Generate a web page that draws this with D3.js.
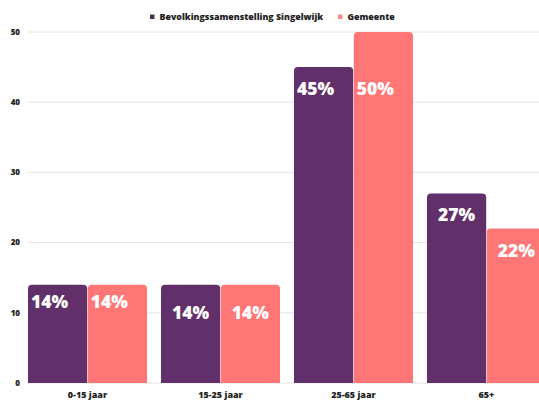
<!DOCTYPE html>
<html>
<head>
<meta charset="utf-8">
<script src="https://cdn.jsdelivr.net/npm/d3@7"></script>
<style>
  html, body { margin: 0; padding: 0; background: #fff; overflow: hidden; }
  svg { display: block; font-family: "Open Sans", "Noto Sans", sans-serif; }
</style>
</head>
<body>
<svg id="chart"></svg>
<script>
// data
const categories = ["0-15 jaar", "15-25 jaar", "25-65 jaar", "65+"];
const seriesNames = ["Bevolkingssamenstelling Singelwijk", "Gemeente"];
const singelwijk = [14, 14, 45, 27];
const gemeente = [14, 14, 50, 22];
const yTicks = [0, 10, 20, 30, 40, 50];

// label placement per group (the original is hand placed, not uniform)
const labelDrop = [[17, 17], [28, 28], [22, 57], [21, 22]];
const labelAnchor = ["start", "middle", "start", "middle"];

const W = 539, H = 400;
const colors = ["#61306a", "#fe7676"];

const svg = d3.select("#chart").attr("width", W).attr("height", H);

const x = d3.scaleBand()
  .domain(categories)
  .range([28, 546])
  .paddingInner(0.105)
  .paddingOuter(0);

const xInner = d3.scaleBand()
  .domain(seriesNames)
  .range([0, x.bandwidth()])
  .paddingInner(0.01);

const y = d3.scaleLinear().domain([0, 50]).range([383, 32]);

// gridlines
svg.append("g")
  .selectAll("line")
  .data(yTicks)
  .join("line")
  .attr("x1", 28)
  .attr("x2", W)
  .attr("y1", d => y(d))
  .attr("y2", d => y(d))
  .attr("stroke", "#e4e4e4")
  .attr("stroke-width", 1);

// y tick labels
svg.append("g")
  .selectAll("text")
  .data(yTicks)
  .join("text")
  .attr("x", 20)
  .attr("y", d => y(d))
  .attr("dy", "0.35em")
  .attr("text-anchor", "end")
  .attr("font-size", "8px")
  .attr("font-weight", 800)
  .attr("fill", "#222")
  .text(d => d);

// rounded top bar path
function topRounded(x0, y0, w, h, r) {
  r = Math.min(r, h, w / 2);
  return `M${x0},${y0 + h}V${y0 + r}Q${x0},${y0} ${x0 + r},${y0}` +
    `H${x0 + w - r}Q${x0 + w},${y0} ${x0 + w},${y0 + r}V${y0 + h}Z`;
}

const rows = categories.map((c, i) => ({
  cat: c, i,
  vals: [singelwijk[i], gemeente[i]]
}));

const groups = svg.append("g")
  .selectAll("g")
  .data(rows)
  .join("g")
  .attr("transform", d => `translate(${x(d.cat)},0)`);

groups.selectAll("path")
  .data(d => d.vals.map((v, s) => ({ v, s, i: d.i })))
  .join("path")
  .attr("d", d => topRounded(xInner(seriesNames[d.s]), y(d.v), xInner.bandwidth(), y(0) - y(d.v), 4))
  .attr("fill", d => colors[d.s]);

groups.selectAll("text")
  .data(d => d.vals.map((v, s) => ({ v, s, i: d.i })))
  .join("text")
  .attr("x", d => labelAnchor[d.i] === "start"
    ? xInner(seriesNames[d.s]) + 3
    : xInner(seriesNames[d.s]) + xInner.bandwidth() / 2)
  .attr("y", d => y(d.v) + labelDrop[d.i][d.s])
  .attr("dy", "0.35em")
  .attr("text-anchor", d => labelAnchor[d.i])
  .attr("font-size", "17.5px")
  .attr("font-weight", 800)
  .attr("fill", "#fff")
  .text(d => d.v + "%");

// category labels
svg.append("g")
  .selectAll("text")
  .data(categories)
  .join("text")
  .attr("x", d => x(d) + x.bandwidth() / 2)
  .attr("y", 395)
  .attr("dy", "0.35em")
  .attr("text-anchor", "middle")
  .attr("font-size", "9px")
  .attr("font-weight", 800)
  .attr("fill", "#222")
  .text(d => d);

// legend
const legend = svg.append("g").attr("transform", "translate(150,17)");
const legendX = [0, 188];
const items = legend.selectAll("g")
  .data(seriesNames)
  .join("g")
  .attr("transform", (d, i) => `translate(${legendX[i]},0)`);
items.append("rect")
  .attr("x", 0).attr("y", -2.5)
  .attr("width", 4.5).attr("height", 4.5)
  .attr("fill", (d, i) => i === 0 ? "#4a3050" : "#fe8a8a");
items.append("text")
  .attr("x", 9.5)
  .attr("dy", "0.35em")
  .attr("font-size", "8.85px")
  .attr("font-weight", 800)
  .attr("fill", "#222")
  .text(d => d);
</script>
</body>
</html>
